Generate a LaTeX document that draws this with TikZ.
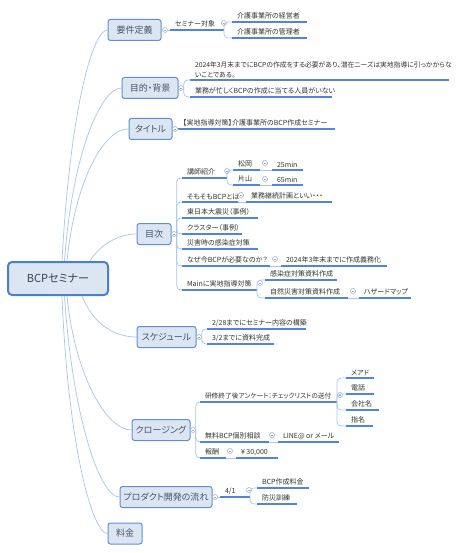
\documentclass[tikz,border=0pt]{standalone}
\usepackage{fontspec}
\setmainfont{Noto Sans CJK JP}[RawFeature=+palt]
\definecolor{tfill}{HTML}{DCE6F2}
\definecolor{tdraw}{HTML}{5F8FD3}
\definecolor{cdraw}{HTML}{4A7FCB}
\definecolor{ttext}{HTML}{44546A}
\definecolor{cline}{HTML}{A9C4EA}
\definecolor{ucol}{HTML}{4F86D9}
\definecolor{ltext}{HTML}{333333}
\definecolor{kcol}{HTML}{9AAFCC}
\tikzset{
  topic/.style={draw=tdraw, fill=tfill, line width=1pt, rounded corners=2.5pt, text=ttext,
    font=\fontsize{9}{10}\selectfont, inner sep=0pt, minimum height=21pt},
  leaf/.style={anchor=south west, inner xsep=5pt, inner ysep=2.5pt, outer sep=0pt, text=ltext,
    font=\fontsize{7}{8}\selectfont, align=left},
  ul/.style={draw=ucol, line width=1.1pt},
  br/.style={draw=cline, line width=0.7pt},
  fork/.style={draw=cline, line width=0.7pt, rounded corners=4pt},
  knob/.style={circle, draw=kcol, line width=0.5pt, minimum size=5pt, inner sep=0pt, fill=white,
    path picture={\draw[kcol, line width=0.5pt] ([xshift=-1.4pt]path picture bounding box.center) -- ([xshift=1.4pt]path picture bounding box.center);}}
}
\newcommand\leafl[5]{\node[leaf] (#1) at (#2,#3) {#5};\draw[ul] (#1.south west) -- ++(#4,0) coordinate (#1e);}
\begin{document}
\begin{tikzpicture}[x=1pt,y=-1pt]
\useasboundingbox (0,0) rectangle (458,553);

% central
\node[draw=cdraw, fill=tfill, line width=2pt, rounded corners=4pt, minimum width=100pt, minimum height=33pt,
  inner sep=0pt, text=ttext!80!black, font=\fontsize{11}{13}\selectfont] (bcp) at (58,278.5) {BCPセミナー};

% topics
\node[topic, minimum width=53pt] (yoken) at (134.5,30) {要件定義};
\node[topic, minimum width=56pt] (mokuteki) at (150,88) {目的・背景};
\node[topic, minimum width=43pt] (title) at (150.5,129) {タイトル};
\node[topic, minimum width=34pt] (mokuji) at (154,234) {目次};
\node[topic, minimum width=59pt] (sched) at (166.5,337) {スケジュール};
\node[topic, minimum width=58pt] (closing) at (161,430) {クロージング};
\node[topic, minimum width=92pt] (product) at (166,497) {プロダクト開発の流れ};
\node[topic, minimum width=34pt] (ryokin) at (125,533.5) {料金};

% central connectors
\draw[br] ([xshift=4pt]bcp.north) .. controls +(8,-150) and +(-15,0) .. (yoken.west);
\draw[br] ([xshift=6.5pt]bcp.north) .. controls +(8,-110) and +(-20,0) .. (mokuteki.west);
\draw[br] ([xshift=9pt]bcp.north) .. controls +(8,-80) and +(-25,0) .. (title.west);
\draw[br] ([xshift=32pt]bcp.north) .. controls +(8,-14) and +(-20,0) .. (mokuji.west);
\draw[br] ([xshift=24pt]bcp.south) .. controls +(10,25) and +(-25,0) .. (sched.west);
\draw[br] ([xshift=9pt]bcp.south) .. controls +(8,80) and +(-25,0) .. (closing.west);
\draw[br] ([xshift=6.5pt]bcp.south) .. controls +(8,120) and +(-20,0) .. (product.west);
\draw[br] ([xshift=4pt]bcp.south) .. controls +(6,150) and +(-15,0) .. (ryokin.west);

% ---------- 要件定義
\node[knob] (k1) at (165,30) {};
\leafl{semi}{170}{30}{54}{セミナー対象}
\draw[br] (k1.east) -- (semi.south west);
\node[knob] (k1a) at (224,23) {};
\coordinate (f1) at (semie);
\leafl{yk1}{232}{22}{75}{介護事業所の経営者}
\leafl{yk2}{232}{38}{75}{介護事業所の管理者}
\draw[fork] (f1) |- (yk1.south west);
\draw[fork] (f1) |- (yk2.south west);

% ---------- 目的・背景
\node[knob] (k2) at (181,88) {};
\node[leaf, font=\fontsize{6.8}{10}\selectfont] (mk1) at (190,80) {2024年3月末までにBCPの作成をする必要があり、潜在ニーズは実地指導に引っかからな\\いことである。};
\draw[ul] (mk1.south west) -- ++(259,0);
\leafl{mk2}{190}{97}{142}{業務が忙しくBCPの作成に当てる人員がいない}
\draw[fork] (k2.east) |- (mk1.south west);
\draw[fork] (k2.east) |- (mk2.south west);

% ---------- タイトル
\node[knob] (k3) at (175,129) {};
\leafl{tt}{178}{129}{157}{【実地指導対策】介護事業所のBCP作成セミナー}
\draw[br] (k3.east) -- (tt.south west);

% ---------- 目次
\node[knob] (k4) at (174,234) {};
\leafl{m1}{182}{178}{45}{講師紹介}
\leafl{m2}{182}{202}{56}{そもそもBCPとは}
\leafl{m3}{182}{218}{76}{東日本大震災（事例）}
\leafl{m4}{182}{234}{60}{クラスター（事例）}
\leafl{m5}{182}{249}{76}{災害時の感染症対策}
\leafl{m6}{182}{266}{88}{なぜ今BCPが必要なのか？}
\leafl{m7}{182}{290}{75}{Mainに実地指導対策}
\foreach \c in {m1,m2,m3,m4,m5,m6,m7}{\draw[fork] (k4.east) |- (\c.south west);}
% 講師紹介
\node[knob] (k41) at (227,171) {};
\leafl{m11}{233}{170}{27}{松岡}
\leafl{m12}{233}{185}{27}{片山}
\draw[fork] (m1e) |- (m11.south west);
\draw[fork] (m1e) |- (m12.south west);
\node[knob] (k411) at (265,163) {};
\node[knob] (k412) at (265,179) {};
\leafl{m111}{272}{170}{31}{25min}
\leafl{m121}{272}{185}{31}{65min}
\draw[br] (m11e) -- (m111.south west);
\draw[br] (m12e) -- (m121.south west);
% そもそも
\node[knob] (k42) at (241,195) {};
\leafl{m21}{246}{202}{86}{業務継続計画といい・・・}
\draw[br] (m2e) -- (m21.south west);
% なぜ今
\node[knob] (k46) at (275,259) {};
\leafl{m61}{281}{266}{106}{2024年3年末までに作成義務化}
\draw[br] (m6e) -- (m61.south west);
% Main
\node[knob] (k47) at (260,283) {};
\leafl{m71}{265}{280}{72}{感染症対策資料作成}
\leafl{m72}{265}{298}{83}{自然災害対策資料作成}
\draw[fork] (m7e) |- (m71.south west);
\draw[fork] (m7e) |- (m72.south west);
\node[knob] (k472) at (353,291) {};
\leafl{m721}{359}{298}{52}{ハザードマップ}
\draw[br] (m72e) -- (m721.south west);

% ---------- スケジュール
\node[knob] (k5) at (199,337) {};
\leafl{s1}{207}{329}{99}{2/28までにセミナー内容の構築}
\leafl{s2}{207}{344}{67}{3/2までに資料完成}
\draw[fork] (k5.east) |- (s1.south west);
\draw[fork] (k5.east) |- (s2.south west);

% ---------- クロージング
\node[knob] (k6) at (193,430) {};
\node[leaf, font=\fontsize{6.7}{8}\selectfont] (c1) at (200,402) {研修終了後アンケート：チェックリストの送付};
\draw[ul] (c1.south west) -- ++(137,0) coordinate (c1e);
\leafl{c2}{200}{442}{69}{無料BCP個別相談}
\leafl{c3}{200}{458}{26}{報酬}
\foreach \c in {c1,c2,c3}{\draw[fork] (k6.east) |- (\c.south west);}
\node[knob] (k61) at (340,395) {};
\leafl{c11}{346}{378}{28}{メアド}
\leafl{c12}{346}{394}{28}{電話}
\leafl{c13}{346}{410}{33}{会社名}
\leafl{c14}{346}{426}{27}{指名}
\foreach \c in {c11,c12,c13,c14}{\draw[fork] (c1e) |- (\c.south west);}
\node[knob] (k62) at (272,435) {};
\leafl{c21}{278}{442}{61}{LINE@ or メール}
\draw[br] (c2e) -- (c21.south west);
\node[knob] (k63) at (230,451) {};
\leafl{c31}{236}{458}{42}{¥ 30,000}
\draw[br] (c3e) -- (c31.south west);

% ---------- プロダクト開発の流れ
\node[knob] (k7) at (215,497) {};
\leafl{p1}{220}{497}{30}{4/1}
\draw[br] (k7.east) -- (p1.south west);
\node[knob] (k71) at (249,490) {};
\leafl{p11}{257}{488}{52}{BCP作成料金}
\leafl{p12}{257}{504}{40}{防災訓練}
\draw[fork] (p1e) |- (p11.south west);
\draw[fork] (p1e) |- (p12.south west);
\end{tikzpicture}
\end{document}
